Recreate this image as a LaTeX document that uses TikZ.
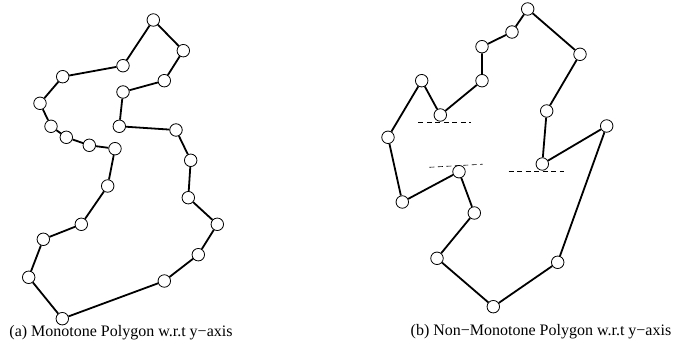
\documentclass[tikz,border=0pt]{standalone}
\usepackage{fontspec}
\setmainfont{Liberation Serif}
\begin{document}
\begin{tikzpicture}[x=1pt,y=-1pt,
  vtx/.style={circle,draw,fill=white,line width=0.8pt,minimum size=12.5pt,inner sep=0pt},
  edge/.style={line width=1.8pt},
  sweep/.style={line width=0.6pt,dash pattern=on 5pt off 3.5pt},
  caption/.style={font=\fontsize{16}{18}\selectfont,inner sep=0pt}]
\useasboundingbox (0,0) rectangle (673,344);
% (a) monotone polygon
\foreach \n/\x/\y in {
  a1/153.3/20, a2/183.3/50.7, a3/164.3/80.7, a4/123/92, a5/119.3/126.3,
  a6/176/130, a7/190.7/160.3, a8/188.3/197.7, a9/217.3/224.3, a10/198.3/254.7,
  a11/164.3/281, a12/62.3/318.7, a13/28.7/277.3, a14/43.3/239.3, a15/81.3/224.3,
  a16/107.7/186, a17/115/148.7, a18/89.3/145.3, a19/66.3/137.3, a20/51/126.3,
  a21/40/103.3, a22/62.7/76.7, a23/123/65.7}
  \node[vtx] (\n) at (\x,\y) {};
\draw[edge] (a1)--(a2)--(a3)--(a4)--(a5)--(a6)--(a7)--(a8)--(a9)--(a10)--(a11)--(a12)
  --(a13)--(a14)--(a15)--(a16)--(a17)--(a18)--(a19)--(a20)--(a21)--(a22)--(a23)--(a1);
% (b) non-monotone polygon
\foreach \n/\x/\y in {
  b1/527.7/9, b2/580/54.3, b3/546.7/111, b4/542.3/164, b5/606.7/126,
  b6/557.7/262.3, b7/493.3/306.7, b8/437/258.3, b9/474.3/213, b10/459/171.7,
  b11/402.3/202, b12/388/137.3, b13/421.7/80.7, b14/440.3/115, b15/482/80.7,
  b16/482/46.7, b17/512/32}
  \node[vtx] (\n) at (\x,\y) {};
\draw[edge] (b1)--(b2)--(b3)--(b4)--(b5)--(b6)--(b7)--(b8)--(b9)--(b10)--(b11)
  --(b12)--(b13)--(b14)--(b15)--(b16)--(b17)--(b1);
% sweep lines at the turning vertices
\coordinate (s1l) at (418.3,122.3); \coordinate (s1r) at (470.7,122.3);
\coordinate (s2l) at (429.3,167.3); \coordinate (s2r) at (482.7,164.2);
\coordinate (s3l) at (508.7,171.7); \coordinate (s3r) at (564,171.7);
\draw[sweep] (s1l)--(s1r);
\draw[sweep] (s2l)--(s2r);
\draw[sweep] (s3l)--(s3r);
% captions
\node[caption] (capa) at (121,333) {(a) Monotone Polygon w.r.t y−axis};
\node[caption] (capb) at (541,332) {(b) Non−Monotone Polygon w.r.t y−axis};
\end{tikzpicture}
\end{document}
